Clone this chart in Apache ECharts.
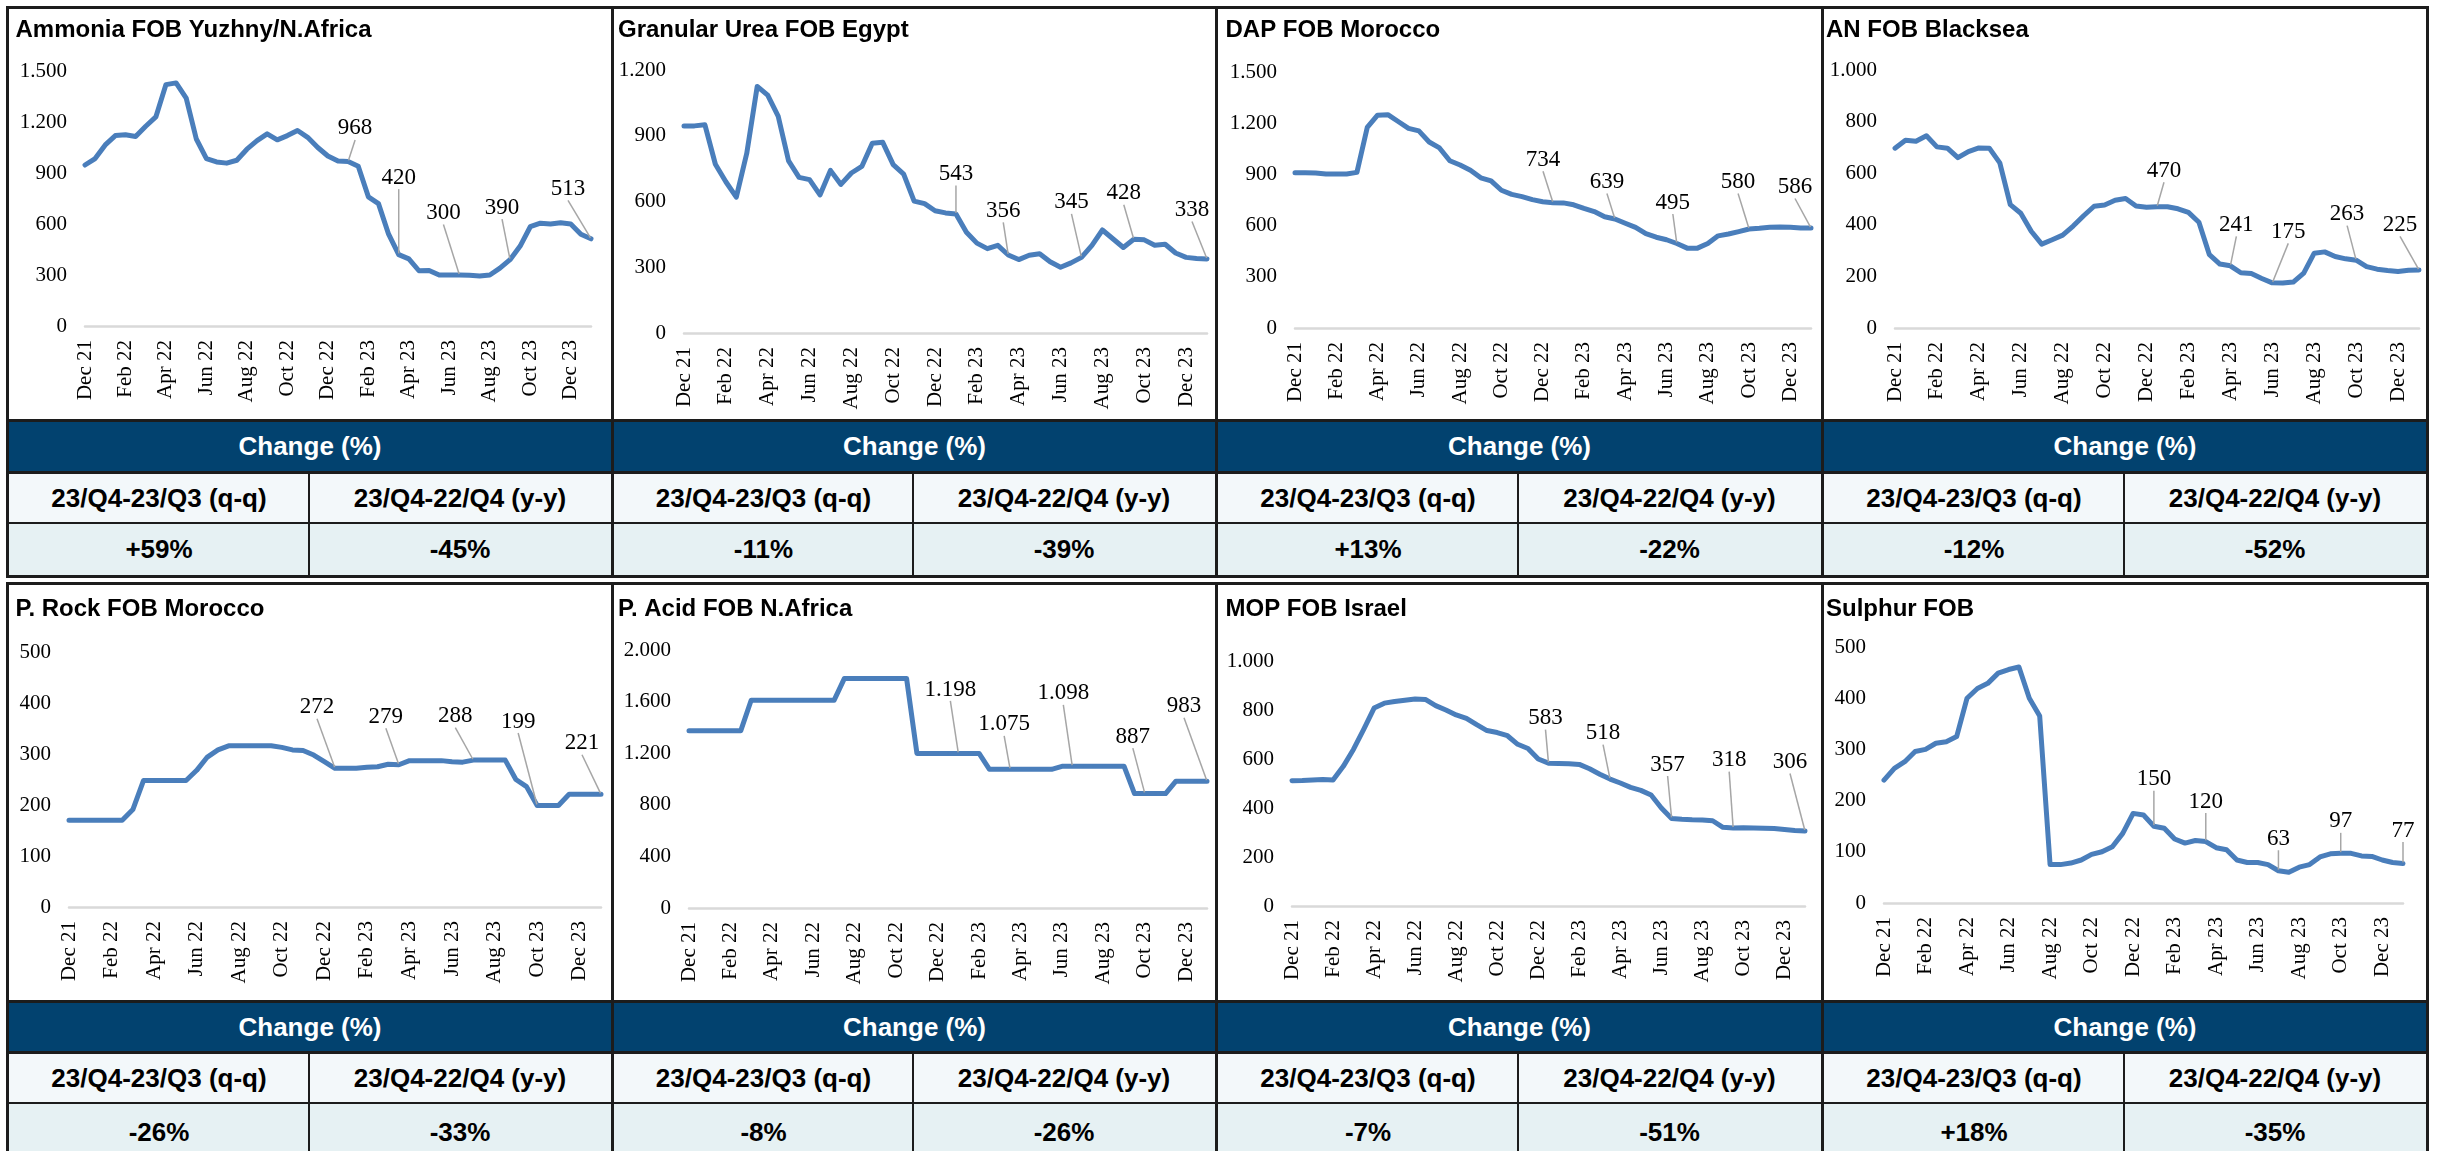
<!DOCTYPE html>
<html>
<head>
<meta charset="utf-8">
<title>Fertilizer prices</title>
<script src="https://cdn.jsdelivr.net/npm/echarts@6/dist/echarts.min.js"></script>
<style>
  html, body { margin: 0; padding: 0; background: #fff; }
  #page { position: relative; width: 2440px; height: 1151px; overflow: hidden; font-family: "Liberation Sans", Arial, sans-serif; }
  .chart { position: absolute; z-index: 1; }
  .cell { position: absolute; z-index: 1; display: flex; align-items: center; justify-content: center; font-weight: bold; font-size: 26px; color: #000; }
  .rule { position: absolute; z-index: 3; background: #1c1c1c; }
</style>
</head>
<body>
<div id="page"></div>
<script>
// x axis tick labels, every 2nd month
var xTicks = ['Dec 21', 'Feb 22', 'Apr 22', 'Jun 22', 'Aug 22', 'Oct 22', 'Dec 22', 'Feb 23', 'Apr 23', 'Jun 23', 'Aug 23', 'Oct 23', 'Dec 23'];

// prices, two readings a month from Dec 21 to end of Dec 23 ($/t)
var ammonia = [947, 985, 1065, 1120, 1125, 1115, 1175, 1230, 1420, 1430, 1340, 1100, 985, 965, 958, 975, 1040, 1090, 1130, 1095, 1120, 1150, 1110, 1050, 1000, 970, 968, 940, 760, 720, 540, 420, 395, 325, 327, 300, 300, 300, 298, 294, 300, 340, 390, 470, 584, 605, 600, 607, 600, 540, 513];
var urea = [945, 945, 950, 770, 690, 620, 820, 1125, 1085, 990, 785, 710, 700, 630, 742, 678, 730, 760, 866, 870, 768, 725, 602, 590, 558, 548, 543, 460, 410, 385, 400, 356, 335, 355, 362, 325, 300, 320, 345, 400, 470, 430, 390, 428, 425, 400, 405, 365, 345, 340, 338];
var dap = [910, 910, 908, 903, 902, 902, 912, 1175, 1247, 1250, 1210, 1170, 1155, 1090, 1055, 980, 955, 924, 880, 862, 807, 783, 770, 752, 740, 734, 733, 722, 701, 682, 652, 639, 614, 590, 553, 532, 517, 495, 468, 468, 495, 540, 551, 565, 580, 584, 590, 592, 590, 586, 586];
var anBlacksea = [697, 728, 724, 745, 702, 697, 660, 684, 698, 697, 640, 478, 445, 375, 325, 342, 360, 395, 435, 472, 477, 495, 502, 473, 468, 470, 470, 462, 448, 410, 284, 248, 241, 214, 211, 192, 175, 174, 178, 213, 290, 295, 277, 268, 263, 238, 228, 223, 219, 224, 225];
var pRock = [170, 170, 170, 170, 170, 170, 191, 248, 248, 248, 248, 248, 268, 294, 308, 316, 316, 316, 316, 316, 313, 308, 307, 298, 285, 272, 272, 272, 274, 275, 280, 279, 287, 287, 287, 287, 285, 284, 288, 288, 288, 288, 250, 236, 199, 199, 199, 221, 221, 221, 221];
var pAcid = [1375, 1375, 1375, 1375, 1375, 1375, 1610, 1610, 1610, 1610, 1610, 1610, 1610, 1610, 1610, 1780, 1780, 1780, 1780, 1780, 1780, 1780, 1198, 1198, 1198, 1198, 1198, 1198, 1198, 1075, 1075, 1075, 1075, 1075, 1075, 1075, 1098, 1098, 1098, 1098, 1098, 1098, 1098, 887, 887, 887, 887, 983, 983, 983, 983];
var mop = [511, 512, 514, 516, 514, 570, 640, 722, 808, 828, 835, 840, 845, 843, 818, 800, 780, 766, 740, 716, 708, 695, 660, 643, 600, 583, 582, 581, 578, 560, 538, 518, 502, 484, 472, 453, 400, 357, 354, 352, 351, 348, 321, 318, 319, 318, 317, 316, 312, 308, 306];
var sulphur = [240, 263, 276, 296, 300, 312, 315, 325, 400, 419, 429, 449, 456, 461, 400, 365, 75, 75, 78, 84, 95, 100, 110, 136, 175, 172, 150, 146, 125, 117, 122, 120, 108, 104, 84, 79, 79, 75, 63, 60, 70, 75, 90, 96, 97, 97, 92, 91, 84, 79, 77];

// change table
var qqChange = ['+59%', '-11%', '+13%', '-12%', '-26%', '-8%', '-7%', '+18%'];
var yyChange = ['-45%', '-39%', '-22%', '-52%', '-33%', '-26%', '-51%', '-35%'];
var qqHead = '23/Q4-23/Q3 (q-q)';
var yyHead = '23/Q4-22/Q4 (y-y)';

var MONTHS = ['Jan', 'Feb', 'Mar', 'Apr', 'May', 'Jun', 'Jul', 'Aug', 'Sep', 'Oct', 'Nov', 'Dec'];
var periods = [];
for (var i = 0; i < ammonia.length; i++) {
    var mi = 11 + Math.floor(i / 2);
    periods.push(MONTHS[mi % 12] + ' ' + (21 + Math.floor(mi / 12)) + (i % 2 ? ' b' : ' a'));
}

var LINE_BLUE = '#4a7ebb';

// per panel: labelled points are [dataIndex, dx, dy] (label shift from the point)
var panels = [
    { title: 'Ammonia FOB Yuzhny/N.Africa', data: ammonia, max: 1500, step: 300, titleX: 6.5,
      grid: { left: 76, right: 20, top: 62, bottom: 93 },
      marks: [[26, 7, -33], [31, 0, -77], [37, -16, -62], [42, -8, -52], [50, -23, -50]] },
    { title: 'Granular Urea FOB Egypt', data: urea, max: 1200, step: 300, titleX: 4,
      grid: { left: 70, right: 8, top: 61, bottom: 86 },
      marks: [[26, 0, -40], [31, -5, -44], [38, -10, -55], [43, -10, -46], [50, -15, -49]] },
    { title: 'DAP FOB Morocco', data: dap, max: 1500, step: 300, titleX: 7.5,
      grid: { left: 77, right: 10, top: 63, bottom: 91 },
      marks: [[25, -10, -43], [31, -8, -37], [37, -4, -41], [44, -11, -47], [50, -16, -41]] },
    { title: 'AN FOB Blacksea', data: anBlacksea, max: 1000, step: 200, titleX: 2,
      grid: { left: 71, right: 7, top: 61, bottom: 91 },
      marks: [[25, 7, -36], [32, 6, -41], [36, 16, -51], [44, -9, -46], [50, -19, -45]] },
    { title: 'P. Rock FOB Morocco', data: pRock, max: 500, step: 100, titleX: 6.5,
      grid: { left: 60, right: 10, top: 67, bottom: 93 },
      marks: [[25, -18, -61], [31, -13, -48], [38, -18, -44], [44, -19, -84], [50, -19, -51]] },
    { title: 'P. Acid FOB N.Africa', data: pAcid, max: 2000, step: 400, titleX: 4,
      grid: { left: 75, right: 8, top: 65, bottom: 92 },
      marks: [[26, -8, -64], [31, -6, -45], [37, -9, -73], [44, -12, -57], [50, -23, -75]] },
    { title: 'MOP FOB Israel', data: mop, max: 1000, step: 200, titleX: 7.5,
      grid: { left: 74, right: 16, top: 76, bottom: 94 },
      marks: [[25, -3, -45], [31, -7, -46], [37, -4, -54], [43, -4, -68], [50, -15, -69]] },
    { title: 'Sulphur FOB', data: sulphur, max: 500, step: 100, titleX: 2,
      grid: { left: 60, right: 23, top: 62, bottom: 97 },
      marks: [[26, 0, -47], [31, 0, -40], [38, 0, -32], [44, 0, -32], [50, 0, -33]] }
];

var colEdges = [6, 611, 1215, 1821, 2426];
var rows = [
    { top: 6, chartBottom: 419, headBottom: 471, labelBottom: 522, bottom: 575, titleY: 9.5 },
    { top: 582, chartBottom: 1000, headBottom: 1051, labelBottom: 1102, bottom: 1160, titleY: 12.5 }
];

function thousands(v) {
    return String(v).replace(/\B(?=(\d{3})+(?!\d))/g, '.');
}

function buildOption(p, row) {
    var spots = {};
    p.marks.forEach(function (m) { spots[m[0]] = m; });
    return {
        animation: false,
        title: {
            text: p.title, left: p.titleX, top: row.titleY, padding: 0,
            textStyle: { fontFamily: 'Liberation Sans', fontWeight: 'bold', fontSize: 24, lineHeight: 24, color: '#000' }
        },
        grid: Object.assign({ outerBoundsMode: 'none' }, p.grid),
        xAxis: {
            type: 'category', data: periods, boundaryGap: false,
            axisLine: { lineStyle: { color: '#d9d9d9', width: 2.5 } },
            axisTick: { show: false },
            splitLine: { show: false },
            axisLabel: {
                interval: 3, rotate: 90, margin: 14,
                fontFamily: 'Liberation Serif', fontSize: 21, color: '#000',
                formatter: function (v, idx) { return xTicks[idx / 4] || ''; }
            }
        },
        yAxis: {
            type: 'value', min: 0, max: p.max, interval: p.step,
            splitLine: { show: false }, axisLine: { show: false }, axisTick: { show: false },
            axisLabel: { margin: 18, fontFamily: 'Liberation Serif', fontSize: 21, color: '#000', formatter: thousands }
        },
        series: [{
            type: 'line',
            data: p.data.map(function (v, idx) {
                return spots[idx] ? { value: v, label: { show: true } } : v;
            }),
            symbol: 'circle', symbolSize: 2, showSymbol: true, showAllSymbol: true,
            itemStyle: { color: LINE_BLUE },
            lineStyle: { color: LINE_BLUE, width: 5, cap: 'round', join: 'round' },
            label: {
                show: false, position: 'inside',
                fontFamily: 'Liberation Serif', fontSize: 23, color: '#000',
                textBorderWidth: 0, textBorderColor: 'transparent',
                formatter: function (q) { return thousands(q.value); }
            },
            labelLine: { show: true, lineStyle: { color: '#a6a6a6', width: 1.5 } },
            labelLayout: function (q) {
                var m = spots[q.dataIndex];
                return m ? { dx: m[1], dy: m[2], hideOverlap: false } : {};
            },
            emphasis: { disabled: true }
        }]
    };
}

var page = document.getElementById('page');

function addDiv(cls, x, y, w, h, css, text) {
    var d = document.createElement('div');
    d.className = cls;
    d.style.left = x + 'px';
    d.style.top = y + 'px';
    d.style.width = w + 'px';
    d.style.height = h + 'px';
    if (css) Object.keys(css).forEach(function (k) { d.style[k] = css[k]; });
    if (text != null) d.textContent = text;
    page.appendChild(d);
    return d;
}

rows.forEach(function (row, r) {
    for (var c = 0; c < 4; c++) {
        var k = r * 4 + c;
        var x0 = colEdges[c] + 3, x1 = colEdges[c + 1];
        var mid = Math.round((colEdges[c] + colEdges[c + 1]) / 2);

        var el = addDiv('chart', x0, row.top + 3, x1 - x0, row.chartBottom - row.top - 3);
        var chart = echarts.init(el, null, { renderer: 'canvas' });
        chart.setOption(buildOption(panels[k], row));

        addDiv('cell', x0, row.chartBottom + 3, x1 - x0, row.headBottom - row.chartBottom - 3,
            { background: '#02426f', color: '#fff' }, 'Change (%)');
        addDiv('cell', x0, row.headBottom + 3, mid - x0, row.labelBottom - row.headBottom - 3,
            { background: '#f3f8fa' }, qqHead);
        addDiv('cell', mid, row.headBottom + 3, x1 - mid, row.labelBottom - row.headBottom - 3,
            { background: '#f3f8fa' }, yyHead);
        addDiv('cell', x0, row.labelBottom + 2, mid - x0, row.bottom - row.labelBottom - 2,
            { background: '#e6f1f3' }, qqChange[k]);
        addDiv('cell', mid, row.labelBottom + 2, x1 - mid, row.bottom - row.labelBottom - 2,
            { background: '#e6f1f3' }, yyChange[k]);

        // divider inside the two lower table rows
        addDiv('rule', mid - 1, row.headBottom, 2, row.bottom - row.headBottom);
    }
    // frame lines
    [row.top, row.chartBottom, row.headBottom, row.bottom].forEach(function (y) {
        addDiv('rule', colEdges[0], y, colEdges[4] + 3 - colEdges[0], 3);
    });
    addDiv('rule', colEdges[0], row.labelBottom, colEdges[4] + 3 - colEdges[0], 2);
    colEdges.forEach(function (x) {
        addDiv('rule', x, row.top, 3, row.bottom - row.top + 3);
    });
});
</script>
</body>
</html>
